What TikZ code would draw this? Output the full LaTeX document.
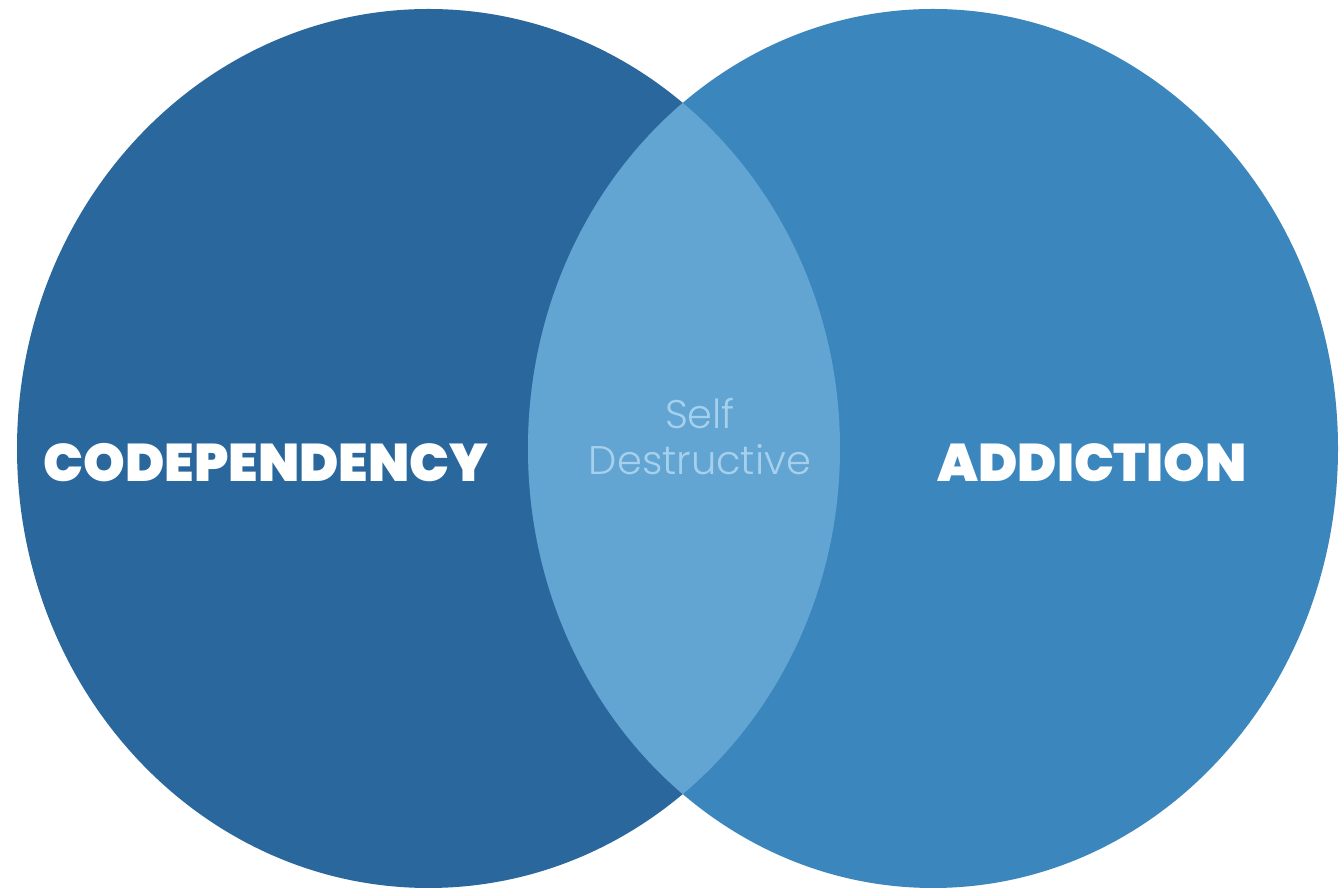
\documentclass[tikz,border=0pt]{standalone}
\usepackage{fontspec}
\setmainfont{Poppins}
\newfontfamily\headfont{Poppins Black}
\newfontfamily\thinfont{Poppins Light}
\usepackage{xcolor}
\usepackage{tikz}
\usetikzlibrary{positioning,shapes.geometric}

\definecolor{codepblue}{HTML}{2A679C}
\definecolor{addictblue}{HTML}{3B87BD}
\definecolor{lensblue}{HTML}{63A5D2}
\definecolor{lenstext}{HTML}{A6D0EC}

\begin{document}
\begin{tikzpicture}[x=1pt,y=1pt,
		blob/.style={ellipse,inner sep=0pt,minimum width=#1,minimum height=879pt},
		biglabel/.style={text=white,font=\headfont\fontsize{53}{53}\selectfont,inner sep=0pt},
		smalllabel/.style={text=lenstext,font=\thinfont\fontsize{40}{46}\selectfont,align=center,inner sep=0pt}]
		\useasboundingbox[fill=white] (0,0) rectangle (1343,893);
		\node[blob=823pt,fill=codepblue] (codep) at (428.5,444.5) {};
		\node[blob=810pt,fill=addictblue] (addict) at (933,444.5) {};
		\begin{scope}
			\clip (codep.center) ellipse [x radius=411.5, y radius=439.5];
			\fill[lensblue] (addict.center) ellipse [x radius=405, y radius=439.5];
		\end{scope}
		\node[biglabel] (codeptxt) at (266,430) {CODEPENDENCY};
		\node[biglabel] (addicttxt) at (1092,430) {ADDICTION};
		\node[smalllabel] (self) at (700,456) {Self\\Destructive};
	\end{tikzpicture}
\end{document}
